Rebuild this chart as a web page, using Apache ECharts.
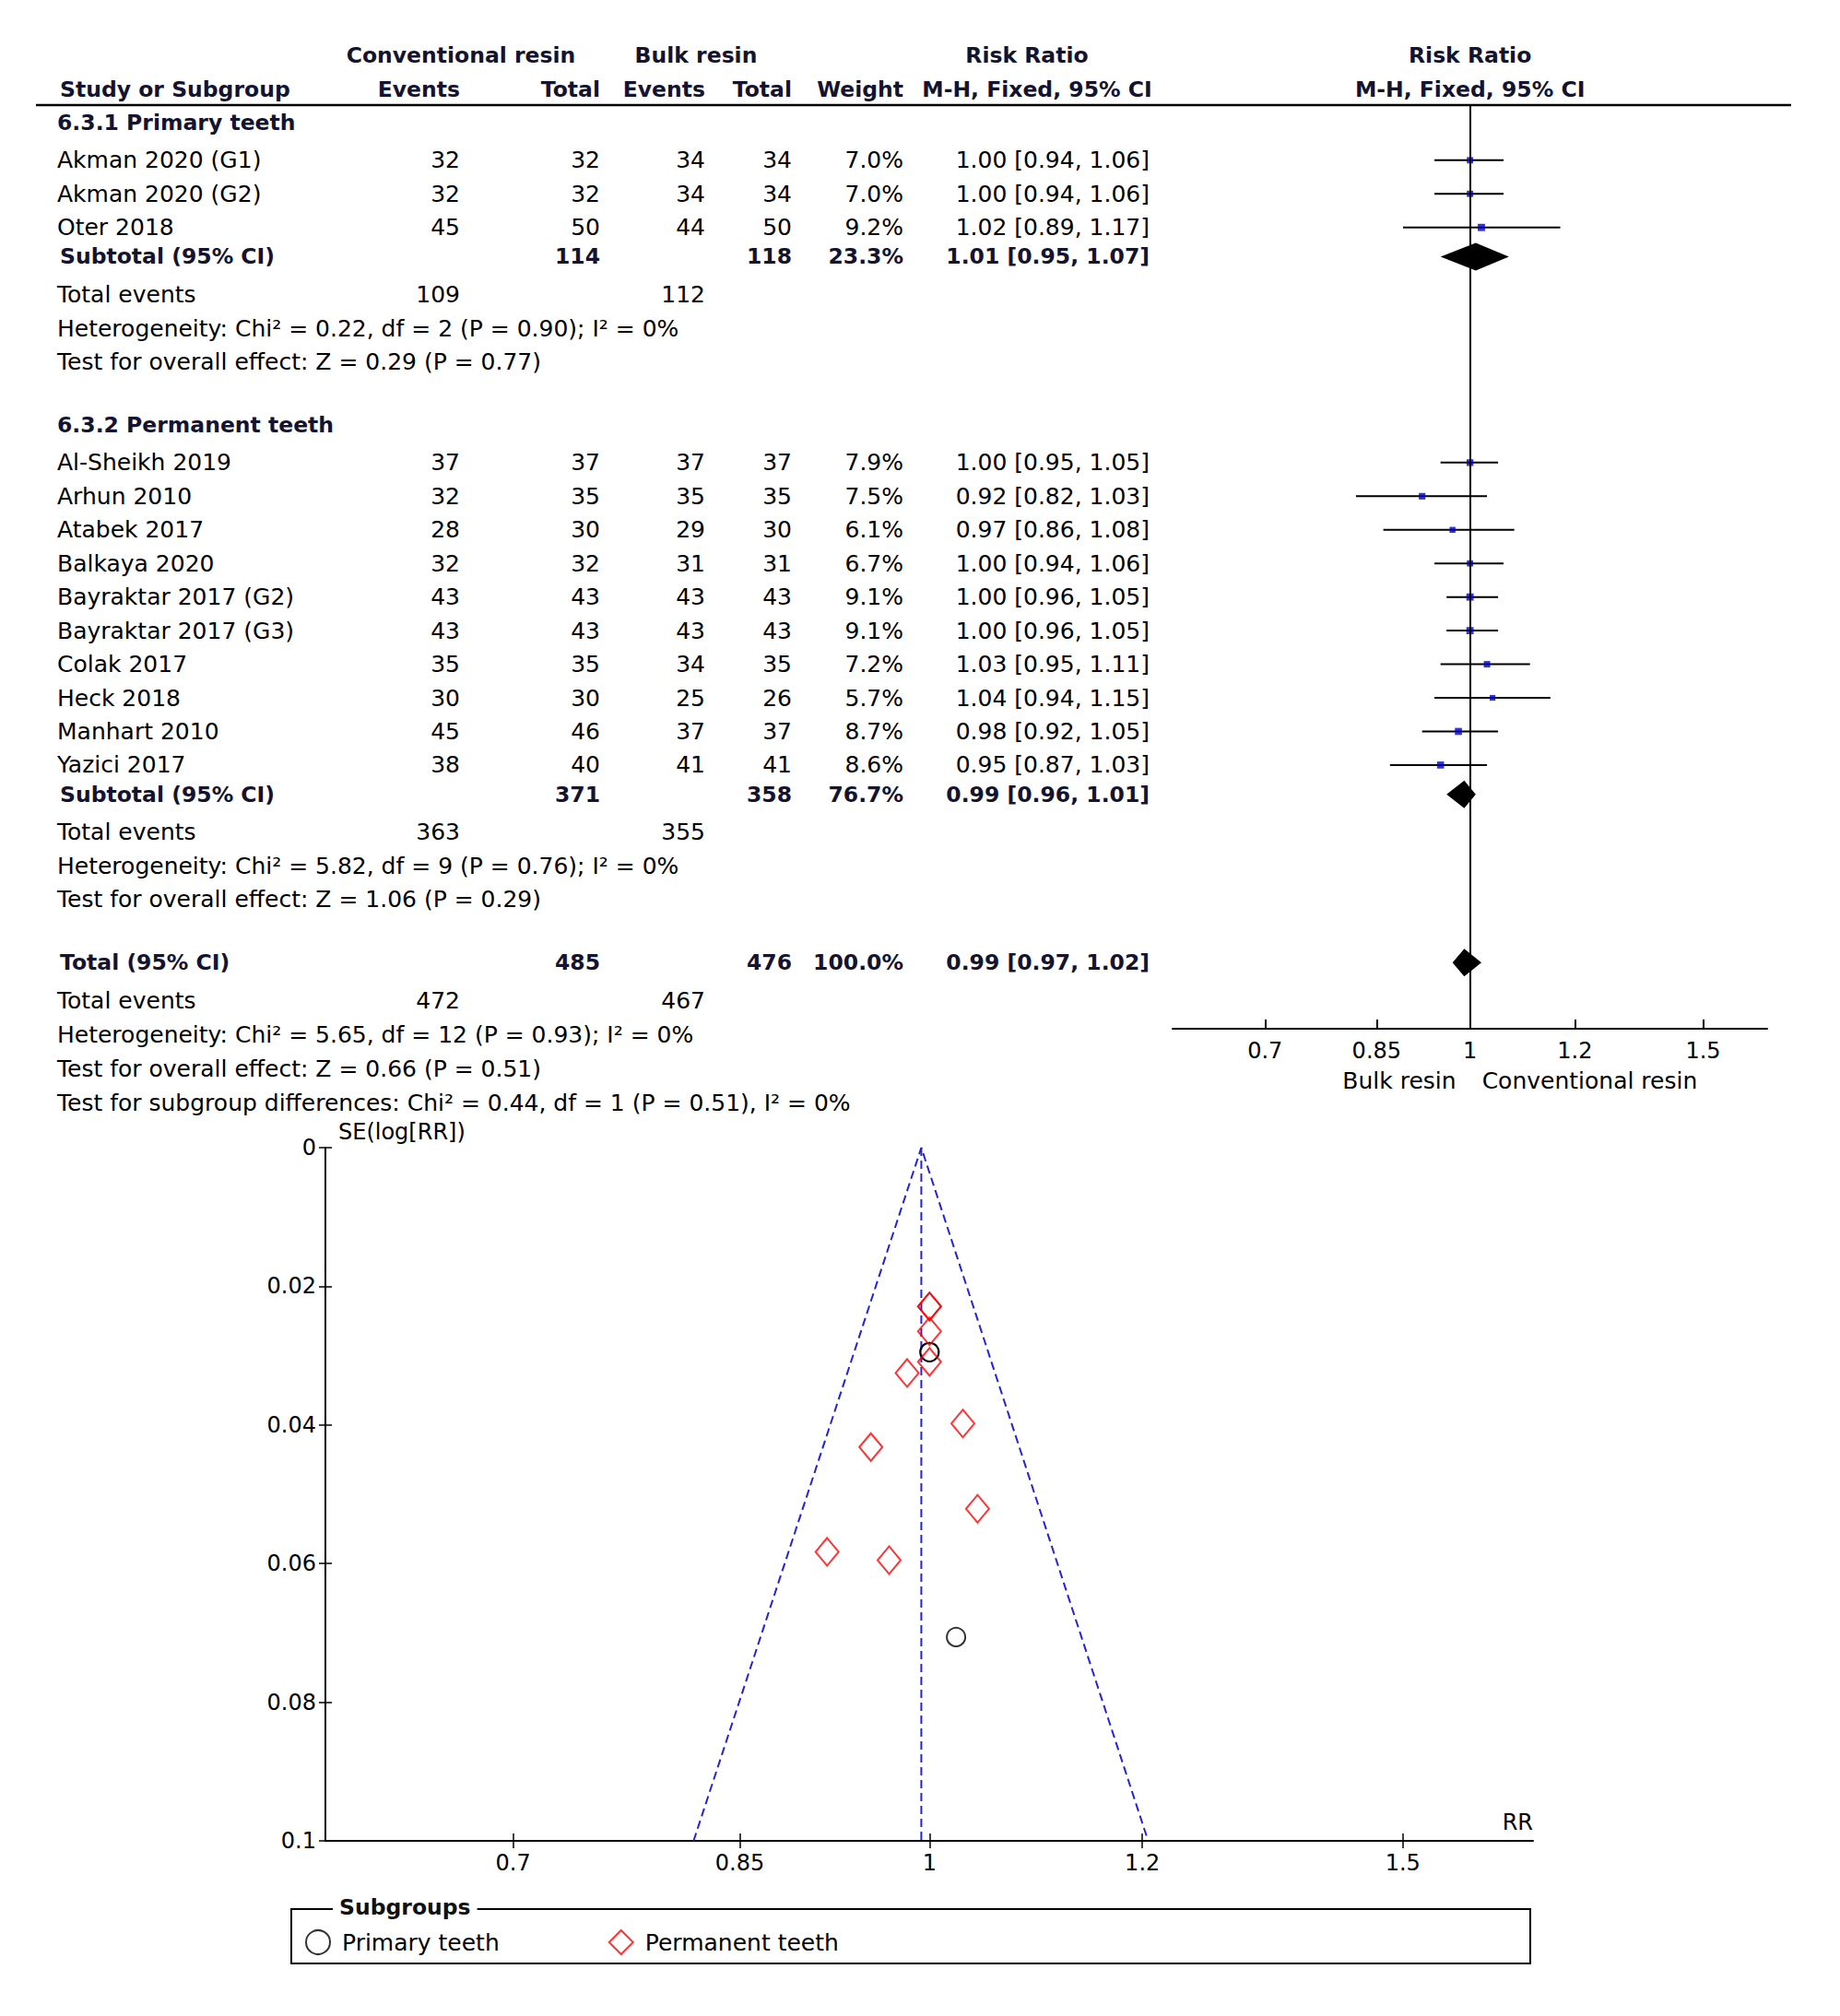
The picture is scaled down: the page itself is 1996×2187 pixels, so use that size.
<!DOCTYPE html>
<html><head><meta charset="utf-8">
<script src="https://cdn.jsdelivr.net/npm/echarts@6/dist/echarts.min.js"></script>
<style>html,body{margin:0;padding:0;background:#fff}#c{width:1996px;height:2187px}</style>
</head><body><div id="c"></div><script>
// ---------------- DATA ----------------
const studyNames = ['Akman 2020 (G1)','Akman 2020 (G2)','Oter 2018',
  'Al-Sheikh 2019','Arhun 2010','Atabek 2017','Balkaya 2020','Bayraktar 2017 (G2)','Bayraktar 2017 (G3)','Colak 2017','Heck 2018','Manhart 2010','Yazici 2017'];
const studyGroup = [0,0,0,1,1,1,1,1,1,1,1,1,1];
const convEvents = [32,32,45,37,32,28,32,43,43,35,30,45,38];
const convTotal  = [32,32,50,37,35,30,32,43,43,35,30,46,40];
const bulkEvents = [34,34,44,37,35,29,31,43,43,34,25,37,41];
const bulkTotal  = [34,34,50,37,35,30,31,43,43,35,26,37,41];
const weights    = [7.0,7.0,9.2,7.9,7.5,6.1,6.7,9.1,9.1,7.2,5.7,8.7,8.6];
const rr         = [1.00,1.00,1.02,1.00,0.92,0.97,1.00,1.00,1.00,1.03,1.04,0.98,0.95];
const rrLo       = [0.94,0.94,0.89,0.95,0.82,0.86,0.94,0.96,0.96,0.95,0.94,0.92,0.87];
const rrHi       = [1.06,1.06,1.17,1.05,1.03,1.08,1.06,1.05,1.05,1.11,1.15,1.05,1.03];

const subgroupNames = ['6.3.1 Primary teeth','6.3.2 Permanent teeth'];
const subConvTotal = [114,371];
const subBulkTotal = [118,358];
const subWeight = [23.3,76.7];
const subRR = [1.01,0.99];
const subLo = [0.95,0.96];
const subHi = [1.07,1.01];
const subConvEvents = [109,363];
const subBulkEvents = [112,355];
const subHet = ['Heterogeneity: Chi\u00b2 = 0.22, df = 2 (P = 0.90); I\u00b2 = 0%','Heterogeneity: Chi\u00b2 = 5.82, df = 9 (P = 0.76); I\u00b2 = 0%'];
const subTest = ['Test for overall effect: Z = 0.29 (P = 0.77)','Test for overall effect: Z = 1.06 (P = 0.29)'];

const totalConvTotal = 485, totalBulkTotal = 476, totalWeight = 100.0;
const totalRR = [0.99, 0.97, 1.02];
const totalConvEvents = 472, totalBulkEvents = 467;
const totalHet = 'Heterogeneity: Chi\u00b2 = 5.65, df = 12 (P = 0.93); I\u00b2 = 0%';
const totalTest = 'Test for overall effect: Z = 0.66 (P = 0.51)';
const subgroupDiff = 'Test for subgroup differences: Chi\u00b2 = 0.44, df = 1 (P = 0.51), I\u00b2 = 0%';

const rrTicks = [0.7, 0.85, 1, 1.2, 1.5];
const rrAxisRange = [0.596, 1.677];

// funnel plot
const primaryRR = [1.00, 1.00, 1.023];
const primarySE = [0.0295, 0.0295, 0.0706];
const permanentRR = [1.00, 0.916, 0.966, 1.00, 1.00, 1.00, 1.029, 1.042, 0.981, 0.951];
const permanentSE = [0.0265, 0.0583, 0.0595, 0.0309, 0.0229, 0.0229, 0.0398, 0.0521, 0.0325, 0.0432];
const funnelRR = [0.817, 0.993, 1.206];
const funnelSE = [0.1, 0, 0.1];
const pooledRR = 0.993;
const seTicks = [0, 0.02, 0.04, 0.06, 0.08, 0.1];

// ---------------- LAYOUT ----------------
const FONT = "'DejaVu Sans', sans-serif";
const FS = 25, FSB = 23.5;
const ROW0 = 133, LINE = 36.45;            // pixel of row 0 and row height
const FG = {left:1272, right:79, top:114, bottom:2187-1116};
const FUN = {left:353, right:333, top:1245, bottom:190};
const COL = {name:62, bname:65, cEv:499, cTot:651, bEv:765, bTot:859, w:980, rr:1247};
const fmtRR = (a,b,c) => `${a.toFixed(2)} [${b.toFixed(2)}, ${c.toFixed(2)}]`;
const L = Math.log;

const rows = [];    // table text rows: {y, cells}
const ciData = [], sqData = [], dmData = [];
function cell(t, x, align, bold){ return {t:String(t), x, align, bold:!!bold}; }

rows.push({y:-2, cells:[cell('Conventional resin',500,'center',1),cell('Bulk resin',755,'center',1),cell('Risk Ratio',1114,'center',1),cell('Risk Ratio','one','center',1)]});
rows.push({y:-1, cells:[cell('Study or Subgroup',COL.bname,'left',1),cell('Events',COL.cEv,'right',1),cell('Total',COL.cTot,'right',1),
  cell('Events',COL.bEv,'right',1),cell('Total',COL.bTot,'right',1),cell('Weight',COL.w,'right',1),cell('M-H, Fixed, 95% CI',1125,'center',1),cell('M-H, Fixed, 95% CI','one','center',1)]});

let pos = 0;
for (let g = 0; g < subgroupNames.length; g++) {
  rows.push({y:pos, cells:[cell(subgroupNames[g], COL.name, 'left', 1)]});
  pos += 1.12;
  let last = pos;
  studyNames.forEach((n,i) => {
    if (studyGroup[i] !== g) return;
    rows.push({y:pos, cells:[cell(n,COL.name,'left'),cell(convEvents[i],COL.cEv,'right'),cell(convTotal[i],COL.cTot,'right'),
      cell(bulkEvents[i],COL.bEv,'right'),cell(bulkTotal[i],COL.bTot,'right'),cell(weights[i].toFixed(1)+'%',COL.w,'right'),
      cell(fmtRR(rr[i],rrLo[i],rrHi[i]),COL.rr,'right')]});
    ciData.push([L(rrLo[i]), L(rrHi[i]), pos]);
    sqData.push([L(rr[i]), pos, weights[i]]);
    last = pos; pos += 1;
  });
  pos = last + 0.87;
  rows.push({y:pos, cells:[cell('Subtotal (95% CI)',COL.bname,'left',1),cell(subConvTotal[g],COL.cTot,'right',1),cell(subBulkTotal[g],COL.bTot,'right',1),
    cell(subWeight[g].toFixed(1)+'%',COL.w,'right',1),cell(fmtRR(subRR[g],subLo[g],subHi[g]),COL.rr,'right',1)]});
  dmData.push([L(subLo[g]), L(subRR[g]), L(subHi[g]), pos]);
  pos += 1.13;
  rows.push({y:pos, cells:[cell('Total events',COL.name,'left'),cell(subConvEvents[g],COL.cEv,'right'),cell(subBulkEvents[g],COL.bEv,'right')]});
  pos += 1;
  rows.push({y:pos, cells:[cell(subHet[g],COL.name,'left')]});
  pos += 1;
  rows.push({y:pos, cells:[cell(subTest[g],COL.name,'left')]});
  pos += 1.88;
}
rows.push({y:pos, cells:[cell('Total (95% CI)',COL.bname,'left',1),cell(totalConvTotal,COL.cTot,'right',1),cell(totalBulkTotal,COL.bTot,'right',1),
  cell(totalWeight.toFixed(1)+'%',COL.w,'right',1),cell(fmtRR(totalRR[0],totalRR[1],totalRR[2]),COL.rr,'right',1)]});
dmData.push([L(totalRR[1]), L(totalRR[0]), L(totalRR[2]), pos]);
pos += 1.12;
rows.push({y:pos, cells:[cell('Total events',COL.name,'left'),cell(totalConvEvents,COL.cEv,'right'),cell(totalBulkEvents,COL.bEv,'right')]});
pos += 1.02; rows.push({y:pos, cells:[cell(totalHet,COL.name,'left')]});
pos += 1.02; rows.push({y:pos, cells:[cell(totalTest,COL.name,'left')]});
pos += 1.02; rows.push({y:pos, cells:[cell(subgroupDiff,COL.name,'left')]});
// effect direction labels under forest axis
rows.push({y:28.53, cells:[cell('Bulk resin','oneL','right'),cell('Conventional resin','oneR','left')]});

const yMinF = (FG.top - ROW0)/LINE, yMaxF = (2187 - FG.bottom - ROW0)/LINE;
const tickLn = rrTicks.map(L);
const tickFmt = v => { const i = tickLn.findIndex(t => Math.abs(t - v) < 1e-6); return i >= 0 ? String(rrTicks[i]) : ''; };

const chart = echarts.init(document.getElementById('c'), null, {renderer:'svg'});
const axisBase = {
  type:'value', min:L(rrAxisRange[0]), max:L(rrAxisRange[1]), splitLine:{show:false}
};
const option = {
  animation:false,
  backgroundColor:'#fff',
  textStyle:{fontFamily:FONT},
  grid:[
    {left:FG.left, right:FG.right, top:FG.top, bottom:FG.bottom},
    {left:FUN.left, right:FUN.right, top:FUN.top, bottom:FUN.bottom}
  ],
  xAxis:[
    Object.assign({}, axisBase, {gridIndex:0, position:'bottom',
      axisLine:{onZero:false, lineStyle:{color:'#000', width:2}},
      axisTick:{inside:true, length:10, lineStyle:{color:'#000', width:2}, customValues:tickLn},
      axisLabel:{customValues:tickLn, formatter:tickFmt, color:'#000', fontSize:24, fontFamily:FONT, margin:12}}),
    Object.assign({}, axisBase, {gridIndex:1, position:'bottom',
      axisLine:{onZero:false, lineStyle:{color:'#000', width:2}},
      axisTick:{length:8, lineStyle:{color:'#000', width:1.5}, customValues:tickLn},
      axisLabel:{customValues:tickLn, formatter:tickFmt, color:'#000', fontSize:24, fontFamily:FONT, margin:12}}),
    Object.assign({}, axisBase, {gridIndex:1, position:'bottom',
      axisLine:{show:false, onZero:false},
      axisTick:{inside:true, length:8, lineStyle:{color:'#000', width:1.5}, customValues:tickLn},
      axisLabel:{show:false}})
  ],
  yAxis:[
    {type:'value', gridIndex:0, inverse:true, min:yMinF, max:yMaxF, show:false},
    {type:'value', gridIndex:1, position:'left', inverse:true, min:0, max:0.1, interval:0.02, splitLine:{show:false},
      axisLine:{onZero:false, lineStyle:{color:'#000', width:2}},
      axisTick:{length:7, lineStyle:{color:'#000', width:1.5}},
      axisLabel:{color:'#000', fontSize:24, fontFamily:FONT, margin:10, formatter:v => String(+v.toFixed(2))}},
    {type:'value', gridIndex:1, position:'left', inverse:true, min:0, max:0.1, interval:0.02, splitLine:{show:false},
      axisLine:{show:false, onZero:false},
      axisTick:{inside:true, length:7, lineStyle:{color:'#000', width:1.5}},
      axisLabel:{show:false}}
  ],
  legend:{
    left:326, top:2088, orient:'horizontal', itemWidth:26, itemHeight:26, itemGap:118,
    textStyle:{fontSize:FS, fontFamily:FONT, color:'#000', padding:[0,0,0,8]},
    data:[
      {name:'Primary teeth', icon:'circle', itemStyle:{color:'#fff', borderColor:'#000', borderWidth:2}},
      {name:'Permanent teeth', icon:'diamond', itemStyle:{color:'#fff', borderColor:'#ff0000', borderWidth:2}}
    ]
  },
  graphic:[
    {type:'line', shape:{x1:39, y1:FG.top, x2:1943, y2:FG.top}, style:{stroke:'#000', lineWidth:2.5}},
    {type:'rect', shape:{x:316, y:2071, width:1344, height:59}, style:{fill:'none', stroke:'#000', lineWidth:2}},
    {type:'text', x:361, y:2069, style:{text:'Subgroups', fontSize:FSB, fontWeight:'bold', fontFamily:FONT, fill:'#111',
      backgroundColor:'#fff', padding:[0,7], align:'left', verticalAlign:'middle'}},
    {type:'text', x:367, y:1228, style:{text:'SE(log[RR])', fontSize:24, fontFamily:FONT, fill:'#000', align:'left', verticalAlign:'middle'}},
    {type:'text', x:1996-FUN.right, y:1977, style:{text:'RR', fontSize:24, fontFamily:FONT, fill:'#000', align:'right', verticalAlign:'middle'}}
  ],
  series:[
    { // table text
      type:'custom', xAxisIndex:0, yAxisIndex:0, clip:false, silent:true, z:5,
      data: rows.map(r => [0, r.y]),
      renderItem:(params, api) => {
        const r = rows[params.dataIndex];
        const p = api.coord([0, r.y]);
        return {type:'group', children:r.cells.map(c => {
          let x = c.x;
          if (c.x === 'one') x = p[0];
          if (c.x === 'oneL') x = p[0] - 15;
          if (c.x === 'oneR') x = p[0] + 13;
          return {type:'text', style:{text:c.t, x, y:p[1], align:c.align, verticalAlign:'middle',
            fontSize:c.bold ? FSB : FS, fontWeight:c.bold ? 'bold' : 'normal', fontFamily:FONT, fill:c.bold ? '#141430' : '#000'}};
        })};
      }
    },
    { // CI lines
      type:'custom', xAxisIndex:0, yAxisIndex:0, clip:false, z:3,
      data: ciData,
      renderItem:(params, api) => {
        const a = api.coord([api.value(0), api.value(2)]);
        const b = api.coord([api.value(1), api.value(2)]);
        return {type:'line', shape:{x1:a[0], y1:a[1], x2:b[0], y2:b[1]}, style:{stroke:'#000', lineWidth:2}};
      }
    },
    { // study squares
      type:'scatter', xAxisIndex:0, yAxisIndex:0, z:4,
      data: sqData, symbol:'rect', symbolSize:v => 2.6*Math.sqrt(v[2]),
      itemStyle:{color:'#0000cc'},
      markLine:{silent:true, symbol:'none', label:{show:false}, lineStyle:{color:'#000', width:2, type:'solid'}, data:[{xAxis:0}]}
    },
    { // diamonds
      type:'custom', xAxisIndex:0, yAxisIndex:0, clip:false, z:4,
      data: dmData,
      renderItem:(params, api) => {
        const y = api.value(3);
        const lo = api.coord([api.value(0), y]), es = api.coord([api.value(1), y]), hi = api.coord([api.value(2), y]);
        const h = 15;
        return {type:'polygon', shape:{points:[[lo[0], lo[1]], [es[0], es[1]-h], [hi[0], hi[1]], [es[0], es[1]+h]]}, style:{fill:'#000'}};
      }
    },
    { // funnel limits
      type:'line', xAxisIndex:1, yAxisIndex:1, symbol:'none', silent:true,
      data: funnelRR.map((v,i) => [L(v), funnelSE[i]]),
      lineStyle:{color:'#2323d8', width:2, type:[9,5]}
    },
    { // pooled estimate
      type:'line', xAxisIndex:1, yAxisIndex:1, symbol:'none', silent:true,
      data: [[L(pooledRR), seTicks[0]], [L(pooledRR), seTicks[seTicks.length-1]]],
      lineStyle:{color:'#2323d8', width:2, type:[9,5]}
    },
    {
      name:'Primary teeth', type:'scatter', xAxisIndex:1, yAxisIndex:1, symbol:'circle', symbolSize:20, z:6,
      data: primaryRR.map((v,i) => [L(v), primarySE[i]]),
      itemStyle:{color:'rgba(255,255,255,0)', borderColor:'#000', borderWidth:2}
    },
    {
      name:'Permanent teeth', type:'scatter', xAxisIndex:1, yAxisIndex:1, symbol:'diamond', symbolSize:[25,30], z:6,
      data: permanentRR.map((v,i) => [L(v), permanentSE[i]]),
      itemStyle:{color:'rgba(255,255,255,0)', borderColor:'#ff0000', borderWidth:2}
    }
  ]
};
chart.setOption(option);
</script></body></html>
